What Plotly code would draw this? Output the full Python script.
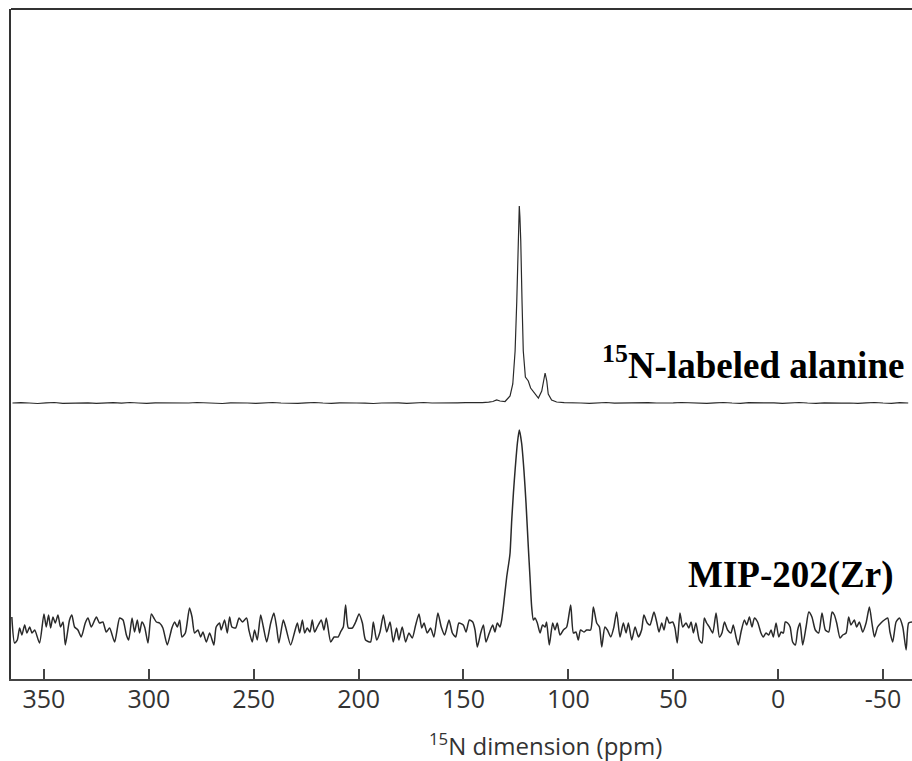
import plotly.graph_objects as go

# ---- data ----
# 15N-labeled alanine spectrum: chemical shift (ppm) and intensity (a.u.)
alanine_ppm = [365, 361, 357, 353, 349, 345, 341, 337, 333, 329, 325, 321, 317, 313, 309, 305, 301, 297, 293, 289,
               285, 281, 277, 273, 269, 265, 261, 257, 253, 249, 245, 241, 237, 233, 229, 225, 221, 217, 213, 209,
               205, 201, 197, 193, 189, 185, 181, 177, 173, 169, 165, 161, 157, 153, 149, 145, 141, 138, 136,
               134.2, 132.6, 130.2, 127.8, 126.5, 125.4, 124.6, 124.0, 123.7, 123.4, 123.1, 122.7, 122.1, 121.5,
               120.5, 119.1, 118.0, 115.9, 114.3, 112.7, 111.9, 111.1, 110.3, 109.6, 108.0, 105.6,
               102, 98, 94, 90, 86, 82, 78, 74, 70, 66, 62, 58, 54, 50, 46, 42, 38, 34, 30, 26, 22, 18, 14, 10, 6, 2,
               -2, -6, -10, -14, -18, -22, -26, -30, -34, -38, -42, -46, -50, -54, -58, -62, -64]
alanine_int = [0, 0.4, 0, -0.5, 0.2, 0.5, -0.3, 0, 0.4, 0.1, -0.4, 0, 0.3, -0.2, 0.5, 0, -0.4, 0.2, 0, 0.4,
               -0.3, 0, 0.5, 0.1, -0.2, -0.5, 0.2, 0.4, 0, -0.3, 0.1, 0.5, 0, -0.2, -0.4, 0.2, 0.5, 0, -0.3, 0.2,
               0.4, 0, -0.2, -0.5, 0, 0.4, 0.1, -0.3, 0.2, 0.5, 0, -0.1, -0.4, 0.2, 0.4, 0, 0.3, 0.8, 1.5,
               3, 2, 1.5, 7, 19, 52, 102, 162, 186, 197, 186, 162, 102, 52,
               26, 22, 15, 9, 5, 12, 22, 30, 22, 9, 3, 1,
               0.3, 0.5, 0, -0.4, 0.2, 0.5, -0.2, 0, -0.5, 0.2, 0.4, 0, -0.3, 0.1, 0.5, 0, -0.2, -0.4, 0.2, 0.5, 0,
               -0.3, 0.3, 0.4, 0, 0.1, -0.4, 0.2, 0.5, 0, -0.3, 0.2, 0.4, -0.1, 0, -0.4, 0.2, 0.5, 0, -0.3, 0.4, 0]

# MIP-202(Zr) spectrum
mip_ppm = [365.3, 364.0, 362.7, 361.6, 360.5, 359.2, 358.1, 356.8, 355.7, 354.4, 352.1, 350.0, 348.9, 347.8, 346.8,
           345.7, 344.6, 343.3, 342.1, 340.9, 339.8, 337.8, 336.7, 335.4, 333.8, 332.2, 330.3, 329.0, 327.4, 325.0,
           323.5, 321.9, 320.3, 318.7, 316.3, 313.9, 312.3, 310.7, 309.6, 308.0, 306.8, 305.5, 304.4, 303.3, 302.0,
           300.4, 298.8, 297.6, 296.4, 294.9, 293.3, 291.2, 289.0, 287.7, 286.4, 285.3, 284.2, 282.6, 280.6, 279.4,
           278.2, 276.6, 275.3, 274.2, 272.6, 271.0, 269.0, 267.9, 266.3, 265.5, 263.9, 262.6, 261.5, 260.4, 258.6,
           257.0, 255.4, 253.4, 252.3, 250.7, 249.6, 248.3, 246.7, 245.4, 243.8, 241.9, 240.4, 239.1, 238.0, 235.9,
           234.8, 232.4, 230.5, 229.2, 228.1, 226.8, 225.7, 224.5, 223.2, 222.1, 221.0, 219.7, 217.8, 216.5, 215.4,
           213.3, 211.7, 209.8, 208.6, 207.3, 206.2, 204.9, 203.0, 201.4, 199.8, 198.2, 196.7, 194.3, 193.0, 191.4,
           189.8, 188.2, 186.6, 185.0, 183.5, 181.9, 180.8, 179.2, 177.6, 176.0, 174.4, 172.8, 171.2, 169.9, 168.8,
           167.3, 165.7, 164.1, 162.2, 160.6, 159.0, 156.9, 155.3, 153.7, 152.2, 150.1, 148.8, 147.2, 145.6, 144.5,
           143.4, 141.8, 140.5, 139.3, 137.7, 136.1, 135.0, 133.9, 132.6, 131.8, 131.0, 129.4, 128.2, 127.8, 127.0,
           126.2, 125.4, 124.3, 123.4, 122.3, 121.2, 120.2, 119.1, 118.3, 117.5, 116.7, 115.9, 114.8, 113.5, 112.3,
           111.1, 110.4, 109.1, 107.5, 106.4, 105.3, 104.0, 102.4, 100.8, 98.9, 97.6, 96.4, 95.3, 94.2, 92.6, 91.3,
           89.4, 88.1, 86.5, 85.2, 84.1, 82.6, 81.4, 79.8, 78.3, 77.0, 75.4, 73.8, 72.5, 71.4, 69.8,
           68.2, 66.6, 65.1, 64.0, 62.4, 61.1, 59.2, 57.9, 56.8, 55.5, 54.4, 53.1, 51.9, 50.3, 49.2,
           48.1, 46.8, 45.5, 43.9, 42.6, 41.5, 40.4, 39.2, 37.6, 36.3, 35.2, 34.1, 32.8, 31.2, 29.6,
           28.0, 26.8, 25.6, 24.1, 22.5, 21.4, 20.1, 19.0, 17.7, 16.1, 15.0, 13.7, 12.5, 11.3, 9.8,
           8.2, 7.1, 5.8, 4.5, 3.4, 2.3, 1.0, -0.3, -1.4, -2.5, -3.4, -4.5, -5.7, -6.9, -8.2,
           -9.3, -10.4, -11.7, -13.3, -14.6, -16.1, -17.7, -19.3, -20.9, -22.5, -24.1, -25.7, -26.8, -27.9, -29.5,
           -30.8, -32.4, -33.6, -34.7, -36.3, -37.4, -38.7, -40.3, -41.9, -43.5, -44.7, -45.9, -47.4, -49.0, -50.6,
           -52.2, -53.3, -54.6, -56.2, -57.8, -59.4, -61.0, -62.2, -63.8]
mip_int = [15, -11, -8, 4, -3, 7, -1, 5, -1, 2, -11, 18, 5, 17, 4,
           15, 9, 17, 5, 10, -13, 12, 17, 5, 2, -5, 9, 14, 5, 15,
           9, 10, 0, 4, -10, 14, 12, -3, -8, 14, 0, 12, -1, 10, 5,
           -11, 18, 14, 10, 9, 4, -13, 4, 10, 5, 12, -5, -1, 24, 15,
           -1, 2, -5, 0, -10, -1, -13, 5, 9, 2, 12, -1, 15, 5, 4,
           14, 10, 14, 2, -10, 2, -8, 17, 5, -10, 9, 19, 5, -11, 12,
           5, -13, 0, 9, -1, 12, -1, 4, 0, 12, 0, 5, 12, 2, 14,
           -10, -5, -5, 0, 5, 27, 4, 4, 10, 18, 9, -8, -10, 10, -8,
           0, 17, 0, 10, -10, 4, -8, 5, -10, -1, -6, 7, 18, 4, 9,
           -1, 4, -5, 19, 5, -3, 12, -1, -5, 9, 7, 0, 12, 10, 2,
           -15, -1, 7, -10, -1, 7, 0, 9, 5, 12, 25, 55, 72, 79, 112,
           139, 162, 189, 202, 189, 162, 129, 85, 55, 25, 12, 14, 9, -1, 7,
           5, 10, -13, 9, 2, 9, -3, 2, 5, 27, -1, 0, -8, 2, 0, 2,
           2, 25, 9, 5, -15, 5, 2, -5, 5, 20, -5, 9, -1, 9, -8,
           5, -5, 2, 17, 9, 7, 20, 10, 0, 9, 2, 15, 9, 10, 4,
           -11, 19, 5, 9, 4, 10, -1, 9, -8, -11, 14, 9, 5, -1, 19,
           -5, -1, 10, 2, -1, 7, -5, -13, 0, 12, 7, 15, 5, 14, 10,
           -1, -5, -1, -3, 2, -5, 9, -5, 0, -1, 10, 9, 5, -10, -13,
           2, 9, -13, 5, 20, 15, 2, -1, 19, 2, 0, 20, 17, 9, -6,
           -3, -1, 15, 7, 12, 5, 10, 0, 9, 25, 9, -5, 5, 9, 12,
           14, 0, -10, 10, 14, 5, -18, 9, 10]

alanine_offset = 276
mip_offset = 47

tick_vals = [350, 300, 250, 200, 150, 100, 50, 0, -50]
tick_text = ["350", "300", "250", "200", "150", "100", "50", "0", "-50"]

fig = go.Figure()
fig.add_trace(go.Scatter(
    x=alanine_ppm, y=[v + alanine_offset for v in alanine_int], mode="lines",
    line=dict(color="#2a2a2a", width=1.2), showlegend=False))
fig.add_trace(go.Scatter(
    x=mip_ppm, y=[v + mip_offset for v in mip_int], mode="lines",
    line=dict(color="#2a2a2a", width=1.5, shape="spline", smoothing=0.6), showlegend=False))

fig.add_annotation(x=-60.8, y=317, xref="x", yref="y", xanchor="right", yanchor="middle",
                   text="<b><sup>15</sup>N-labeled alanine</b>", showarrow=False,
                   font=dict(family="Liberation Serif", size=37, color="#000"))
fig.add_annotation(x=-56.0, y=104, xref="x", yref="y", xanchor="right", yanchor="middle",
                   text="<b>MIP-202(Zr)</b>", showarrow=False,
                   font=dict(family="Liberation Serif", size=37, color="#000"))
# axis title (centred where the reference places it)
fig.add_annotation(x=0.593, y=-0.098, xref="paper", yref="paper", xanchor="center", yanchor="middle",
                   text="<sup>15</sup>N dimension (ppm)", showarrow=False,
                   font=dict(family="Open Sans", size=24, color="#333"))

# top frame line
fig.add_shape(type="line", xref="paper", yref="paper", x0=0, x1=1, y0=1, y1=1,
              line=dict(color="#333", width=2))

fig.update_layout(
    width=912, height=761,
    margin=dict(l=11, r=0, t=9, b=82),
    paper_bgcolor="white", plot_bgcolor="white",
    xaxis=dict(range=[365.7, -63.8], tickvals=tick_vals, ticktext=tick_text,
               ticks="inside", ticklen=10, tickwidth=1.5, tickcolor="#444",
               showline=True, linecolor="#444", linewidth=1.5, showgrid=False, zeroline=False,
               tickfont=dict(family="Open Sans", size=25, color="#333"),
               ticklabelstandoff=-3),
    yaxis=dict(range=[0, 670], showticklabels=False, ticks="", showgrid=False, zeroline=False,
               showline=True, linecolor="#333", linewidth=2),
)

fig.write_html("out.html")
